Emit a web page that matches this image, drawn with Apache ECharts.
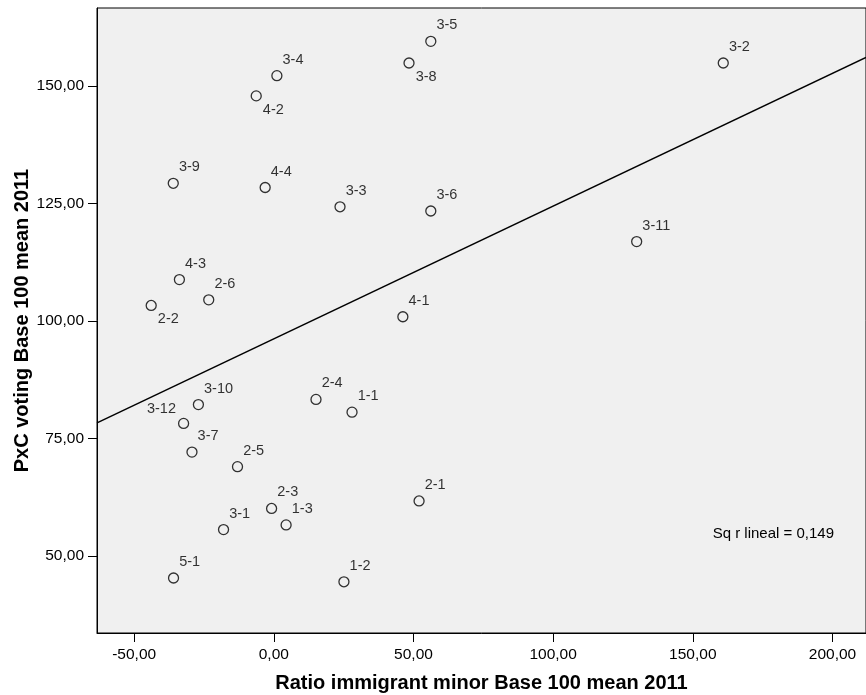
<!DOCTYPE html>
<html>
<head>
<meta charset="utf-8">
<style>
  html, body { margin: 0; padding: 0; background: #fff; }
  #main { width: 866px; height: 695px; }
</style>
<script src="https://cdn.jsdelivr.net/npm/echarts@6/dist/echarts.min.js"></script>
</head>
<body>
<div id="main"></div>
<script>
// data
const names  = ['3-5', '3-8', '3-4', '4-2', '3-2', '3-9', '4-4', '3-3', '3-6', '3-11', '4-3', '2-6', '2-2',
                '4-1', '2-4', '1-1', '3-10', '3-12', '3-7', '2-5', '2-3', '1-3', '3-1', '5-1', '1-2', '2-1'];
const ratio  = [56.2, 48.4, 1.1, -6.3, 160.9, -36.0, -3.1, 23.7, 56.2, 129.9, -33.8, -23.3, -43.9,
                46.2, 15.1, 28.0, -27.0, -32.3, -29.3, -13.0, -0.8, 4.4, -18.0, -35.9, 25.1, 52.0];
const voting = [159.5, 154.9, 152.2, 147.9, 154.9, 129.3, 128.4, 124.3, 123.4, 116.9, 108.8, 104.5, 103.3,
                100.9, 83.3, 80.6, 82.2, 78.2, 72.1, 69.0, 60.1, 56.6, 55.6, 45.3, 44.5, 61.7];
const xTicks = [-50, 0, 50, 100, 150, 200];
const yTicks = [50, 75, 100, 125, 150];
const xRange = [-63.3, 212];
const yRange = [33.6, 166.6];

// labels that sit below / left of their point
const below = ['3-8', '4-2', '2-2'];
const left = ['3-12'];

const font = '"Liberation Sans", Arial, sans-serif';
const fmt = v => v.toFixed(2).replace('.', ',');

// linear fit
const n = ratio.length;
const mx = ratio.reduce((a, b) => a + b, 0) / n;
const my = voting.reduce((a, b) => a + b, 0) / n;
let sxy = 0, sxx = 0;
for (let i = 0; i < n; i++) {
  sxy += (ratio[i] - mx) * (voting[i] - my);
  sxx += (ratio[i] - mx) * (ratio[i] - mx);
}
const slope = sxy / sxx;
const icept = my - slope * mx;
const fitLine = xRange.map(x => [x, icept + slope * x]);

const points = names.map((nm, i) => {
  let label = { position: 'right', distance: 0, offset: [0, -16] };
  if (below.includes(nm)) label = { position: 'right', distance: 0, offset: [1, 14] };
  if (left.includes(nm)) label = { position: 'left', distance: 2, offset: [0, -14] };
  return { name: nm, value: [ratio[i], voting[i]], label };
});

const chart = echarts.init(document.getElementById('main'));
chart.setOption({
  animation: false,
  textStyle: { fontFamily: font },
  grid: {
    left: 97, right: 0, top: 8, bottom: 62,
    outerBoundsMode: 'none',
    containLabel: false,
    show: true, backgroundColor: '#f0f0f0', borderColor: '#000', borderWidth: 1
  },
  xAxis: {
    type: 'value',
    min: xRange[0], max: xRange[1],
    name: 'Ratio immigrant minor Base 100 mean 2011',
    nameLocation: 'middle', nameGap: 40, nameMoveOverlap: false,
    nameTextStyle: { fontSize: 20, fontWeight: 'bold', color: '#000', fontFamily: font },
    axisLine: { show: true, onZero: false, lineStyle: { color: '#000', width: 1 } },
    axisTick: { show: true, length: 9, customValues: xTicks, lineStyle: { color: '#000' } },
    axisLabel: { customValues: xTicks, formatter: fmt, fontSize: 15.5, color: '#000', margin: 14, fontFamily: font },
    splitLine: { show: false }
  },
  yAxis: {
    type: 'value',
    min: yRange[0], max: yRange[1],
    name: 'PxC voting Base 100 mean 2011',
    nameLocation: 'middle', nameGap: 65, nameMoveOverlap: false,
    nameTextStyle: { fontSize: 20, fontWeight: 'bold', color: '#000', fontFamily: font },
    axisLine: { show: true, onZero: false, lineStyle: { color: '#000', width: 1 } },
    axisTick: { show: true, length: 9, customValues: yTicks, lineStyle: { color: '#000' } },
    axisLabel: { customValues: yTicks, formatter: fmt, fontSize: 15.5, color: '#000', margin: 13, fontFamily: font },
    splitLine: { show: false }
  },
  series: [
    {
      type: 'line',
      data: fitLine,
      symbol: 'none',
      lineStyle: { color: '#000', width: 1.5 },
      silent: true,
      z: 1
    },
    {
      type: 'scatter',
      data: points,
      symbol: 'circle',
      symbolSize: 10,
      itemStyle: { color: 'rgba(0,0,0,0)', borderColor: '#000', borderWidth: 1.3 },
      label: {
        show: true,
        formatter: p => p.name,
        fontSize: 14.5,
        color: '#000',
        fontFamily: font
      },
      z: 2
    }
  ],
  graphic: [{
    type: 'text',
    right: 32,
    top: 526,
    style: { text: 'Sq r lineal = 0,149', fontSize: 15, fill: '#000', fontFamily: font }
  }]
});
</script>
</body>
</html>
